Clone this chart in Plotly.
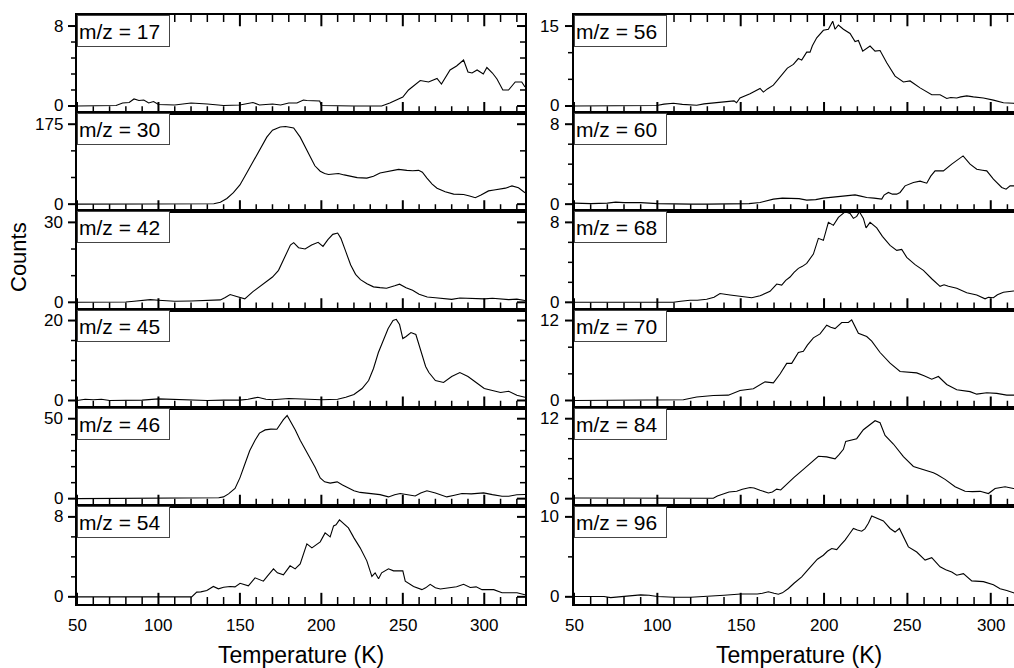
import plotly.graph_objects as go

# ---------------- data (Temperature in K, counts) ----------------
T17 = [50, 60, 70, 74, 78, 82, 85, 88, 91, 94, 97, 100, 110, 120, 130, 140, 150, 155, 158, 162, 170, 175, 180, 185, 189, 191, 195, 199, 200, 210, 220, 230, 237, 242, 246, 250, 253.5, 257, 260.7, 265.8, 268, 271, 273.7, 276, 279, 283, 287.3, 290, 292.5, 295.6, 299.4, 301.6, 305, 307.8, 311.4, 314.9, 319, 323, 325]
V17 = [0, 0, 0, 0.05, 0.3, 0.35, 0.7, 0.55, 0.6, 0.3, 0.45, 0.15, 0.1, 0.3, 0.2, 0.05, 0.1, 0.25, 0.35, 0.1, 0.2, 0.1, 0.3, 0.3, 0.6, 0.55, 0.5, 0.5, 0.05, 0, 0, 0, 0, 0.3, 0.6, 0.9, 1.6, 2.1, 2.55, 2.4, 2.55, 2.75, 2.2, 2.8, 3.6, 4.0, 4.6, 3.4, 3.3, 3.6, 3.2, 3.85, 3.3, 2.7, 1.6, 1.6, 2.4, 2.4, 1.9]

T30 = [50, 100, 130, 134, 138, 142, 146, 150, 154, 158.3, 162, 166.5, 170, 174.7, 178, 180.8, 183, 187, 190, 193.1, 196, 199.3, 202, 204.4, 207, 210.5, 214, 217.7, 222, 227.9, 232, 236, 241, 247.4, 252.5, 256, 259.7, 262, 264.8, 268, 271, 276, 281.2, 287.3, 291, 294.5, 298, 302.6, 306, 309.8, 313, 317, 321, 325]
V30 = [0, 0, 0, 1, 4, 12.5, 25, 42, 67, 94.5, 121, 146.6, 162, 169, 170, 169, 166.7, 146.7, 125, 102, 84, 72, 67, 65, 66, 67, 64, 61, 58, 57, 61, 68, 72, 76, 74, 73, 74, 70, 57, 44, 35, 27, 22, 21, 18, 14, 20, 29, 31, 33, 35, 40, 36, 25]

T42 = [50, 60, 70, 80, 85, 90, 95, 100, 105, 110, 120, 130, 138, 141, 144, 148, 153, 158, 164.5, 170, 173.7, 176, 178.8, 181, 183, 186, 190, 194, 198, 201, 204, 207, 210, 212, 215, 218, 221, 224, 228, 232, 236, 240, 245, 248, 252, 256, 260, 265, 270, 275, 280, 285, 290, 295, 300, 305, 310, 315, 320, 325]
V42 = [0, 0, 0, 0.1, 0.4, 0.8, 1.0, 0.8, 0.6, 0.4, 0.5, 0.8, 0.9, 1.8, 2.9, 2.2, 1.3, 4, 6.8, 9.5, 12, 15, 19, 21.5, 22.4, 20.5, 20, 21.5, 22.5, 21, 23.5, 25.5, 26, 24, 19, 14, 10.5, 8.5, 7, 5.8, 5.5, 5.3, 6.2, 6.8, 5.5, 4.5, 3, 2, 1.7, 1.3, 1.1, 1.6, 1.5, 1.4, 1.3, 1.5, 1.2, 1.0, 1.2, 0.7]

T45 = [50, 55, 60, 65, 70, 80, 90, 100, 110, 120, 130, 140, 150, 155, 161, 166, 170, 180, 190, 200, 210, 215, 220, 225, 229, 232, 235, 238, 241, 244, 246, 248, 250, 252, 255, 258, 260, 262, 264, 266, 270, 275, 280, 285, 290, 295, 300, 305, 310, 315, 320, 325]
V45 = [0, 0.3, 0.2, 0.3, 0, 0, 0.1, 0.4, 0.3, 0.1, 0, 0.1, 0.1, 0.3, 0.8, 0.3, 0.2, 0.5, 0.3, 0.2, 0.3, 0.8, 1.5, 3, 5, 8, 12, 15, 18, 20, 20.3, 19, 15.5, 16, 17, 16.5, 14, 11, 8.5, 7, 5, 4.5, 6, 7, 6, 4.5, 3, 2.5, 2, 2.3, 1.3, 0.8]

T46 = [50, 100, 120, 133.7, 137, 139.9, 143, 147, 150, 153, 156, 159.3, 162, 165.5, 169, 172.7, 175, 176.7, 179, 180.8, 184, 187, 190, 193, 196, 199.3, 202, 205.4, 209.7, 213, 217.7, 220, 223.8, 228, 232, 236, 241.2, 245, 248.4, 252, 257.6, 261, 264.8, 270, 277, 281, 286.3, 292, 299.6, 305, 310.9, 315, 320, 325]
V46 = [0, 0.3, 0.3, 0.3, 0.6, 1.1, 3, 6.4, 13, 21.5, 30, 36.5, 41, 43, 43.5, 43.4, 47, 49.4, 52, 49, 43, 36.5, 31, 25.8, 20, 12.9, 10.5, 9.7, 10.5, 8.5, 6.4, 5, 3.9, 3.5, 3.2, 2.5, 1.1, 2.5, 3.2, 2.6, 1.7, 3.5, 4.9, 3.5, 1.1, 2, 3.2, 3, 3.6, 2.5, 1.5, 1.5, 2.4, 2.6]

T54 = [50, 100, 120.4, 123.5, 126, 129.7, 133.7, 136.8, 140, 144, 147, 150.1, 155.2, 159.3, 164.4, 167, 170.6, 173, 176.7, 180.8, 183.9, 187, 191.1, 194.2, 197, 199.3, 202.3, 205.4, 207.5, 209, 211.1, 213, 216.6, 220, 223.8, 227.9, 231, 233, 235.1, 237, 241.2, 244.3, 248.4, 250, 251.5, 256.6, 261.7, 264, 266.8, 270, 273, 279.1, 283, 287.3, 291.4, 295, 298.6, 305.8, 310.9, 320.1, 325]
V54 = [0, 0, 0, 0.47, 0.5, 0.63, 1.04, 0.8, 0.95, 1.04, 1.0, 1.35, 1.1, 1.9, 1.57, 2.1, 2.8, 2.4, 2.2, 3.1, 2.8, 3.3, 5.3, 4.9, 5.2, 5.5, 6.4, 6.0, 7.1, 7.2, 7.7, 7.4, 6.9, 5.9, 4.9, 3.6, 2.04, 2.4, 1.8, 2.4, 2.8, 2.6, 2.6, 2.6, 1.57, 1.04, 0.72, 0.9, 1.25, 0.9, 0.78, 0.94, 1.0, 1.25, 0.94, 1.0, 0.72, 0.72, 0.41, 0.41, 0.2]

T56 = [50, 80, 99.6, 104, 109.6, 115, 123.6, 128, 133.6, 140, 146, 147.5, 149.6, 155.6, 161.6, 163.6, 166, 169.6, 172, 175.6, 178, 181.6, 184.6, 186.6, 189.6, 191.6, 193, 195.6, 199.6, 202.6, 203.6, 205.2, 206.6, 208.6, 211.6, 215.6, 218.6, 220.6, 223.2, 227.6, 230.6, 233.6, 237.6, 242.6, 247.6, 251.6, 257.6, 264.6, 269.6, 273.6, 276, 279.6, 282, 285.6, 289.6, 295.6, 301.6, 307.6, 313.6, 320]
V56 = [0, 0.05, 0.1, 0.35, 0.5, 0.3, 0.15, 0.4, 0.6, 0.8, 0.95, 0.6, 1.5, 2.3, 3.3, 2.6, 3.2, 3.9, 4.8, 6.3, 7.1, 7.8, 8.9, 8.6, 10.1, 10.1, 11.3, 12.8, 14.2, 14.4, 15.0, 15.9, 14.4, 15.2, 14.4, 13.6, 12.1, 12.3, 10.3, 11.25, 10.3, 10.4, 8.1, 5.6, 4.5, 4.7, 3.4, 2.1, 2.1, 1.4, 1.6, 1.5, 1.7, 1.9, 1.7, 1.5, 1.1, 0.6, 0.5, 0.4]

T60 = [50, 60, 70, 75, 80, 90, 100, 110, 120, 130, 140, 149.6, 155, 161.6, 165, 169.6, 175, 179.6, 185, 189.6, 195, 199.6, 205, 209.6, 214, 218.6, 222, 225.6, 230, 234.6, 236, 238.6, 241, 243.6, 245.6, 248.6, 253.6, 257.6, 261.6, 264, 266.6, 271.6, 276.6, 280, 283.4, 287.6, 291.6, 295, 297.6, 301.6, 306.6, 309.2, 311.6, 314, 320]
V60 = [0.1, 0.05, 0.1, 0.2, 0.15, 0.15, 0.05, 0, 0, 0, 0, 0, 0.05, 0.17, 0.3, 0.5, 0.6, 0.6, 0.55, 0.4, 0.45, 0.6, 0.7, 0.83, 0.9, 0.93, 0.8, 0.67, 0.6, 0.5, 0.9, 1.17, 1.0, 1.0, 1.17, 1.83, 2.17, 2.3, 2.1, 2.8, 3.33, 3.33, 4.0, 4.4, 4.83, 4.0, 3.5, 3.4, 3.33, 2.5, 1.67, 1.5, 1.83, 1.83, 1.6]

T68 = [50, 80, 109.6, 114, 119.6, 124, 129.6, 134, 137.6, 143.6, 149.6, 156.6, 161.6, 164, 167.6, 171.6, 174.6, 177, 179.6, 182, 184.6, 187, 189.6, 193.6, 196.6, 199.6, 202.6, 205.6, 208.6, 212.6, 215.6, 217.6, 219.6, 221.2, 223.6, 225.2, 227.6, 231.6, 235, 239.6, 243.6, 246.6, 249.6, 254.6, 259.6, 264.6, 269.6, 272, 274.6, 279.6, 285.6, 291.6, 296.6, 298.6, 301.6, 304, 307.6, 313.6, 320]
V68 = [0, 0, 0, 0.1, 0.2, 0.2, 0.3, 0.5, 0.88, 0.74, 0.6, 0.46, 0.65, 0.8, 1.1, 1.83, 1.73, 2.2, 2.53, 3.0, 3.4, 3.6, 3.9, 4.83, 6.4, 6.2, 8.0, 7.7, 8.5, 9.06, 8.9, 8.4, 8.6, 9.06, 8.4, 7.45, 8.0, 7.45, 6.6, 5.7, 5.2, 5.3, 4.5, 3.77, 3.2, 2.36, 1.6, 1.75, 1.6, 1.4, 0.95, 0.74, 0.35, 0.5, 0.46, 0.75, 1.0, 1.13, 1.1]

T70 = [50, 80, 109.6, 115.6, 123.6, 133.6, 142.6, 146, 149.6, 157.6, 164.6, 169.6, 173.6, 177.6, 180.6, 184.6, 187.6, 190, 193.6, 197.6, 201.6, 204, 206.6, 210.6, 214.6, 216.6, 220.6, 225.6, 228.6, 233.6, 239.6, 245.6, 250, 255.6, 260, 264.6, 268.6, 273.6, 279.6, 287.6, 291.6, 297.6, 303.6, 309.6, 313.6, 320]
V70 = [0, 0, 0, 0.1, 0.53, 0.74, 0.8, 1.1, 1.5, 1.75, 2.8, 2.65, 3.97, 5.57, 5.57, 7.2, 7.4, 8.3, 9.4, 10.0, 11.3, 11.0, 10.8, 11.7, 11.7, 12.1, 10.1, 9.6, 8.9, 7.2, 5.6, 4.35, 4.3, 4.14, 3.7, 3.2, 3.6, 2.4, 1.6, 1.33, 0.95, 1.17, 1.06, 0.8, 0.8, 0.8]

T84 = [50, 100, 133.6, 136, 139.6, 143, 147.6, 151, 155.6, 158, 161.6, 166.6, 169, 171.6, 174, 177.6, 182, 187.6, 192, 196.6, 201.6, 206.6, 209, 211.6, 213, 215.6, 219.6, 223.6, 227.6, 230.6, 233.6, 236.6, 241.6, 247.6, 253.6, 259.6, 265.6, 268, 272.6, 278.6, 284.6, 289, 293.6, 298.6, 302.6, 308.6, 313.6, 320]
V84 = [0.1, 0.05, 0.05, 0.4, 0.77, 1.0, 1.1, 1.4, 1.68, 1.6, 1.27, 0.86, 1.0, 1.43, 1.3, 2.2, 3.2, 4.4, 5.4, 6.37, 6.27, 5.97, 6.6, 7.4, 8.6, 8.8, 9.0, 10.35, 11.2, 11.7, 11.4, 9.5, 8.2, 6.3, 4.84, 4.4, 3.9, 3.6, 2.9, 1.78, 1.1, 1.05, 1.1, 0.77, 1.53, 1.78, 1.53, 1.5]

T96 = [50, 60, 68, 72, 76, 80, 85, 90, 95, 100, 110, 120, 130, 135, 140, 150, 155, 160, 163, 166.6, 170, 172.6, 175, 178.6, 182, 186.6, 190, 193.6, 196, 199.6, 202, 204.6, 207.6, 210, 212.6, 215, 217.6, 220, 222.6, 224.5, 226.6, 228.6, 231.6, 235.6, 239.6, 242.6, 245.2, 248, 250.6, 255.6, 260.6, 264.6, 269.6, 273, 276.6, 279.6, 283.6, 288.6, 295.6, 301.6, 305.6, 309.6, 313.6, 320]
V96 = [0.05, 0.05, 0.05, -0.1, 0, 0.1, 0.15, 0.25, 0.2, 0.05, -0.05, -0.05, 0.05, 0.15, 0.2, 0.35, 0.35, 0.35, 0.45, 0.63, 0.45, 0.33, 0.5, 1.04, 1.7, 2.5, 3.3, 4.2, 4.7, 5.2, 5.7, 6.04, 5.9, 6.5, 7.1, 7.8, 8.55, 8.35, 8.2, 8.5, 9.2, 10.1, 9.8, 9.5, 8.55, 8.1, 8.55, 7.3, 6.25, 5.6, 4.6, 4.9, 3.75, 3.4, 3.1, 2.7, 2.9, 2.0, 1.9, 1.5, 1.0, 0.8, 0.5, 0.4]

LEFT_LABELS = ["m/z = 17", "m/z = 30", "m/z = 42", "m/z = 45", "m/z = 46", "m/z = 54"]
RIGHT_LABELS = ["m/z = 56", "m/z = 60", "m/z = 68", "m/z = 70", "m/z = 84", "m/z = 96"]
LEFT_DATA = [(T17, V17), (T30, V30), (T42, V42), (T45, V45), (T46, V46), (T54, V54)]
RIGHT_DATA = [(T56, V56), (T60, V60), (T68, V68), (T70, V70), (T84, V84), (T96, V96)]
LEFT_YMAX = [8, 175, 30, 20, 50, 8]
RIGHT_YMAX = [15, 8, 8, 12, 12, 10]
LEFT_YMINOR = [5, 3, 3, 4, 5, 4]
RIGHT_YMINOR = [3, 4, 4, 3, 4, 2]
X_MAJOR = [50, 100, 150, 200, 250, 300]
X_MINOR_STEP = 10
X_TITLE = "Temperature (K)"
Y_TITLE = "Counts"

# ---------------- layout geometry ----------------
W, H = 1014, 668
FONT = "Liberation Sans, Arial, Helvetica, sans-serif"
TOP, PANEL_H = 15.0, 98.17
LEFT_X = (77, 525)
RIGHT_X = (574, 1014)
LEFT_RANGE = [50, 325]
RIGHT_RANGE = [50, 50 + (1014 - 574) / 1.667]
MAJ_LEN, MIN_LEN, YMAJ_LEN = 8, 5, 8
MAJ_W, MIN_W = 2, 1.5


def px2x(px):
    return px / W


def px2y(py):
    return 1 - py / H


fig = go.Figure()
layout = dict(
    width=W, height=H, margin=dict(l=0, r=0, t=0, b=0),
    paper_bgcolor="white", plot_bgcolor="white", showlegend=False,
    font=dict(family=FONT, color="black", size=16),
)
annotations = []
shapes = []


def ref(prefix, n):
    return prefix if n == 1 else f"{prefix}{n}"


def seg(px0, py0, px1, py1, w):
    shapes.append(dict(type="line", xref="paper", yref="paper",
                       x0=px2x(px0), x1=px2x(px1), y0=px2y(py0), y1=px2y(py1),
                       line=dict(color="black", width=w), layer="above"))


def tick_markers(xa, ya, xs, yval, size, width):
    # vertical tick marks centred on the axis edge; the outer half is clipped by the plot area
    fig.add_trace(go.Scatter(
        x=xs, y=[yval] * len(xs), mode="markers", xaxis=xa, yaxis=ya, cliponaxis=True,
        marker=dict(symbol="line-ns", size=size, color="black",
                    line=dict(color="black", width=width)),
        hoverinfo="skip"))


def add_column(labels, data, ymaxes, yminors, xpx, xrange, offset, right_side, ylab_shift):
    panel_w = xpx[1] - xpx[0]
    majors = [v for v in X_MAJOR if v <= xrange[1]]
    minors = [v for v in range(X_MAJOR[0], int(xrange[1]) + 1, X_MINOR_STEP) if v not in X_MAJOR]
    for i in range(6):
        n = offset + i + 1
        T, V = data[i]
        M = ymaxes[i]
        xa, ya = ref("x", n), ref("y", n)
        fig.add_trace(go.Scatter(x=T, y=V, mode="lines", xaxis=xa, yaxis=ya,
                                 line=dict(color="black", width=1.1), hoverinfo="skip"))
        top = TOP + i * PANEL_H
        bot = top + PANEL_H
        is_top = i == 0
        is_bottom = i == 5
        yr = [-0.09 * M, 1.138 * M]

        def ymap(val):
            return bot - (val - yr[0]) / (yr[1] - yr[0]) * PANEL_H

        layout[ref("xaxis", n)] = dict(
            domain=[px2x(xpx[0]), px2x(xpx[1])], anchor=ya, range=xrange,
            showgrid=False, zeroline=False, showline=True, linecolor="black", linewidth=1.5,
            mirror=True, ticks="", showticklabels=False,
        )
        layout[ref("yaxis", n)] = dict(
            domain=[px2y(bot), px2y(top)], anchor=xa, range=yr,
            showgrid=False, zeroline=False, showline=True, linecolor="black", linewidth=2,
            mirror=right_side, ticks="", showticklabels=False,
        )
        # x ticks: inside, from the bottom edge (and from the top edge on the top panel)
        tick_markers(xa, ya, majors, yr[0], 2 * MAJ_LEN, MAJ_W)
        tick_markers(xa, ya, minors, yr[0], 2 * MIN_LEN, MIN_W)
        if is_top:
            tick_markers(xa, ya, majors, yr[1], 2 * MAJ_LEN, MAJ_W)
            tick_markers(xa, ya, minors, yr[1], 2 * MIN_LEN, MIN_W)
        # y ticks: outside on the left, inside on the right
        for k in range(yminors[i] + 1):
            val = M * k / yminors[i]
            major = k in (0, yminors[i])
            L = YMAJ_LEN if major else MIN_LEN
            wdt = MAJ_W if major else MIN_W
            py = ymap(val)
            seg(xpx[0] - 1, py, xpx[0] - 1 - L, py, wdt)
            if right_side:
                seg(xpx[1], py, xpx[1] - L, py, wdt)
        # y tick labels
        for val in (0, M):
            annotations.append(dict(text=str(val), xref=f"{xa} domain", yref=ya, x=0, y=val,
                                    xanchor="right", yanchor="middle", xshift=ylab_shift,
                                    showarrow=False, font=dict(size=17, family=FONT, color="black")))
        # x tick labels
        if is_bottom:
            for v in majors:
                annotations.append(dict(text=str(v), xref=xa, yref=f"{ya} domain", x=v, y=0,
                                        xanchor="center", yanchor="top", yshift=-10,
                                        showarrow=False, font=dict(size=17, family=FONT, color="black")))
        annotations.append(dict(
            text=labels[i], xref=f"{xa} domain", yref=f"{ya} domain", x=0, y=1,
            xanchor="left", yanchor="top", showarrow=False, align="left",
            width=89, height=28, borderpad=1, borderwidth=1, bordercolor="#444",
            bgcolor="white", font=dict(size=21, family=FONT, color="black"),
        ))


add_column(LEFT_LABELS, LEFT_DATA, LEFT_YMAX, LEFT_YMINOR, LEFT_X, LEFT_RANGE, 0, True, -12)
add_column(RIGHT_LABELS, RIGHT_DATA, RIGHT_YMAX, RIGHT_YMINOR, RIGHT_X, RIGHT_RANGE, 6, False, -13)

annotations.append(dict(text=Y_TITLE, xref="paper", yref="paper", x=px2x(18), y=px2y(257),
                        textangle=-90, showarrow=False, xanchor="center", yanchor="middle",
                        font=dict(size=22, family=FONT, color="black")))
for cx in (301, 799):
    annotations.append(dict(text=X_TITLE, xref="paper", yref="paper", x=px2x(cx), y=px2y(655),
                            showarrow=False, xanchor="center", yanchor="middle",
                            font=dict(size=23, family=FONT, color="black")))

layout["annotations"] = annotations
layout["shapes"] = shapes
fig.update_layout(**layout)
fig.write_html("out.html")
